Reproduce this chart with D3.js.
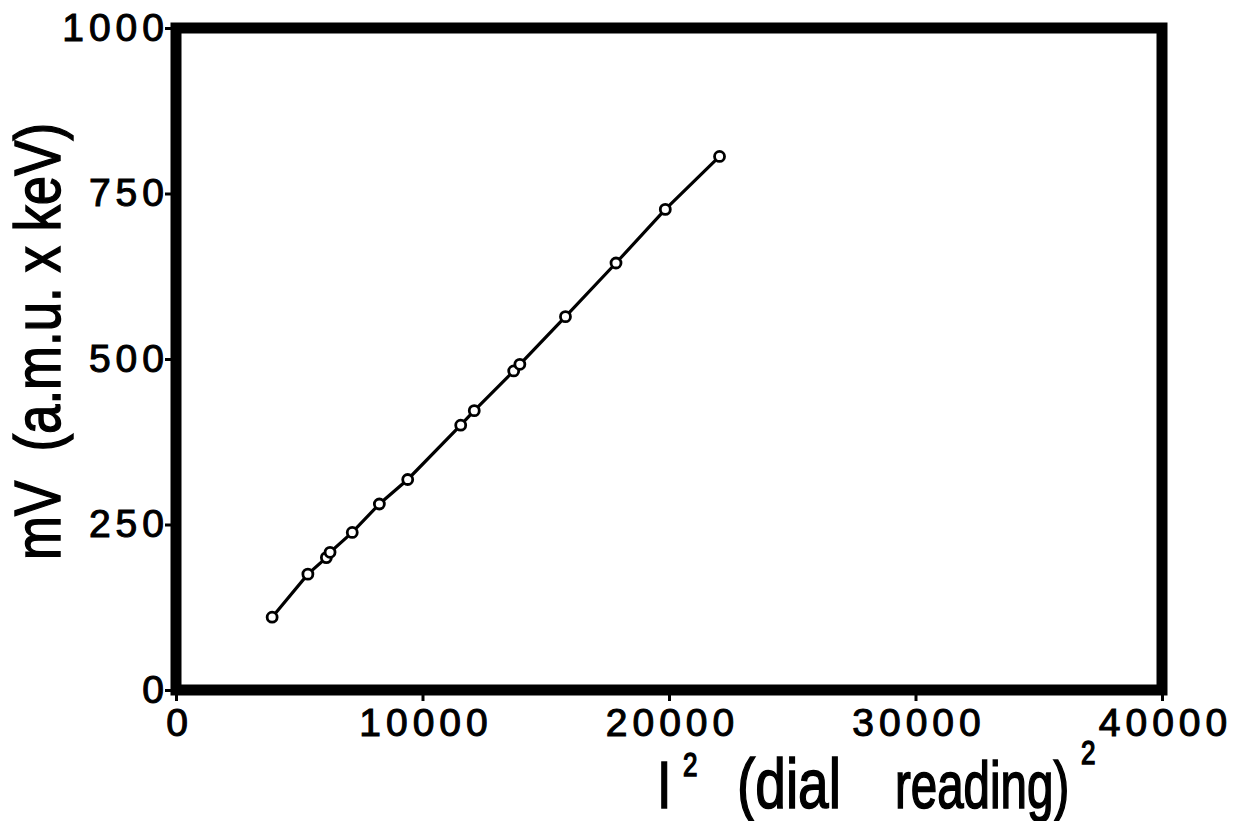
<!doctype html>
<head>
  <style>
    html, body {
      margin: 0;
      padding: 0;
      width: 1241px;
      height: 821px;
      background: white;
    }
    svg text {
      font-family: "Liberation Sans", Arial, sans-serif;
      fill: black;
      white-space: pre;
    }
    .axis text {
      font-size: 39px;
      letter-spacing: 5px;
      stroke: black;
      stroke-width: 1.1px;
    }
    .axis path {
      display: none;
    }
    .axis line {
      stroke: black;
      stroke-width: 3px;
    }
    .lab {
      stroke: black;
      stroke-width: 1.2px;
    }
  </style>
  <script src="https://cdn.jsdelivr.net/npm/d3@7"></script>
</head>

<body>
  <svg id="chart" width="1241" height="821"></svg>

  <script>
    // I^2 (dial reading^2) vs mV (a.m.u. x keV)
    var iSquared = [3900, 5350, 6100, 6250, 7150, 8250, 9400, 11550, 12100,
                    13700, 13950, 15800, 17850, 19850, 22050];
    var mV = [110, 175, 200, 208, 238, 281, 318, 400, 422,
              482, 492, 564, 645, 726, 806];
    var xTicks = [0, 10000, 20000, 30000, 40000];
    var yTicks = [0, 250, 500, 750, 1000];

    var svg = d3.select('#chart');

    var x = d3.scaleLinear().domain([0, 40000]).range([176, 1162]);
    var y = d3.scaleLinear().domain([0, 1000]).range([690, 28]);

    var data = iSquared.map(function(d, i) { return {x: d, y: mV[i]}; });

    // axes (ticks and labels only; frame drawn separately)
    svg.append('g')
        .attr('class', 'axis')
        .attr('transform', 'translate(' + x.range()[0] + ',0)')
        .call(d3.axisLeft(y).tickValues(yTicks).tickFormat(d3.format('d'))
            .tickSize(11).tickPadding(0))
        .selectAll('text')
        .attr('dx', '4px');

    svg.append('g')
        .attr('class', 'axis')
        .attr('transform', 'translate(0,' + y.range()[0] + ')')
        .call(d3.axisBottom(x).tickValues(xTicks).tickFormat(d3.format('d'))
            .tickSize(11).tickPadding(7))
        .selectAll('text')
        .attr('dx', '3px');

    // heavy frame
    svg.append('rect')
        .attr('x', x.range()[0])
        .attr('y', y.range()[1])
        .attr('width', x.range()[1] - x.range()[0])
        .attr('height', y.range()[0] - y.range()[1])
        .attr('fill', 'none')
        .attr('stroke', 'black')
        .attr('stroke-width', 11);

    // line through the points
    var line = d3.line()
        .x(function(d) { return x(d.x); })
        .y(function(d) { return y(d.y); });

    svg.append('path')
        .datum(data)
        .attr('d', line)
        .attr('fill', 'none')
        .attr('stroke', 'black')
        .attr('stroke-width', 3.2);

    svg.selectAll('circle.pt')
        .data(data)
        .enter().append('circle')
        .attr('class', 'pt')
        .attr('cx', function(d) { return x(d.x); })
        .attr('cy', function(d) { return y(d.y); })
        .attr('r', 5)
        .attr('fill', 'white')
        .attr('stroke', 'black')
        .attr('stroke-width', 2.8);

    // y axis title
    svg.append('text')
        .attr('class', 'lab')
        .attr('transform', 'translate(60,560) rotate(-90) scale(1,1.24)')
        .attr('font-size', 53)
        .attr('textLength', 437)
        .attr('lengthAdjust', 'spacingAndGlyphs')
        .text('mV  (a.m.u. x keV)');

    // x axis title, pieced together with superscripts
    function stretched(sy) {
      return svg.append('g')
          .attr('transform', 'translate(0,808) scale(1,' + sy + ') translate(0,-808)');
    }
    var xt = stretched(1.28);
    xt.append('text').attr('class', 'lab').attr('x', 657).attr('y', 808)
        .attr('font-size', 52).text('I');
    xt.append('text').attr('class', 'lab').attr('x', 683).attr('y', 783)
        .attr('font-size', 26).text('2');
    xt.append('text').attr('class', 'lab').attr('x', 737).attr('y', 808)
        .attr('font-size', 55).text('(dial');
    xt.append('text').attr('class', 'lab').attr('x', 1081).attr('y', 774)
        .attr('font-size', 26).text('2');
    stretched(1.39).append('text').attr('class', 'lab').attr('x', 895).attr('y', 808)
        .attr('font-size', 47.5).text('reading)');
  </script>
</body>
